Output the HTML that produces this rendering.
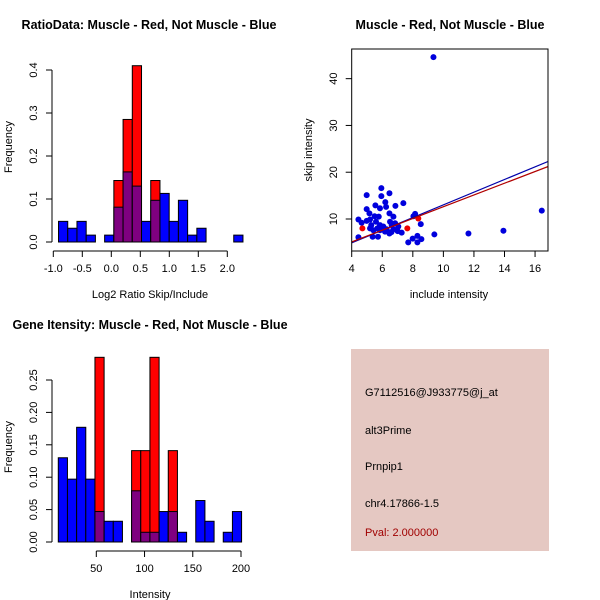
<!DOCTYPE html>
<html><head><meta charset="utf-8"><style>
body{margin:0;background:#fff}
svg{display:block;font-family:"Liberation Sans",sans-serif}
</style></head><body>
<svg id="c" width="600" height="600" xmlns="http://www.w3.org/2000/svg">
<rect width="600" height="600" fill="#fff"/>
<text x="149" y="29" font-size="12.5" font-weight="bold" text-anchor="middle">RatioData: Muscle - Red, Not Muscle - Blue</text>
<text x="450" y="29" font-size="12.5" font-weight="bold" text-anchor="middle">Muscle - Red, Not Muscle - Blue</text>
<text x="150" y="329" font-size="12.5" font-weight="bold" text-anchor="middle">Gene Itensity: Muscle - Red, Not Muscle - Blue</text>
<text x="150" y="298" font-size="11" text-anchor="middle">Log2 Ratio Skip/Include</text>
<text x="150" y="598" font-size="11" text-anchor="middle">Intensity</text>
<text x="449" y="298" font-size="11" text-anchor="middle">include intensity</text>
<text transform="translate(12,147) rotate(-90)" font-size="11" text-anchor="middle">Frequency</text>
<text transform="translate(12,447) rotate(-90)" font-size="11" text-anchor="middle">Frequency</text>
<text transform="translate(312,150) rotate(-90)" font-size="11" text-anchor="middle">skip intensity</text>
<g>
<rect x="351" y="349" width="198" height="202" fill="#e5c8c2"/>
<text x="365" y="396" font-size="11">G7112516@J933775@j_at</text>
<text x="365" y="434" font-size="11">alt3Prime</text>
<text x="365" y="470" font-size="11">Prnpip1</text>
<text x="365" y="507" font-size="11">chr4.17866-1.5</text>
<text x="365" y="536" font-size="11" fill="#a00000">Pval: 2.000000</text>
</g>
</svg>
<script>
// ratio histogram data
const ratioBinStart = -0.91, ratioBinWidth = 0.159;
const ratioBlue = [0.048,0.032,0.048,0.016,0,0.016,0.081,0.163,0.13,0.048,0.097,0.113,0.048,0.097,0.016,0.032,0,0,0,0.016];
const ratioRed  = [0,0,0,0,0,0,0.143,0.285,0.41,0,0.143,0,0,0,0,0,0,0,0,0];
const ratioXTicks = [-1.0,-0.5,0.0,0.5,1.0,1.5,2.0];
const ratioXLabels = ["-1.0","-0.5","0.0","0.5","1.0","1.5","2.0"];
const ratioYTicks = [0,0.1,0.2,0.3,0.4];
const ratioYLabels = ["0.0","0.1","0.2","0.3","0.4"];
// intensity histogram data
const intBinStart = 10.6, intBinWidth = 9.5;
const intBlue = [0.13,0.097,0.177,0.097,0.047,0.032,0.032,0,0.079,0.015,0.015,0.047,0.047,0.015,0,0.064,0.032,0,0.015,0.047];
const intRed  = [0,0,0,0,0.285,0,0,0,0.141,0.141,0.285,0,0.141,0,0,0,0,0,0,0];
const intXTicks = [50,100,150,200];
const intYTicks = [0,0.05,0.1,0.15,0.2,0.25];
const intYLabels = ["0.00","0.05","0.10","0.15","0.20","0.25"];
// scatter data
const blueX = [9.35,16.44,13.93,11.64,9.41,5.94,5.94,6.47,4.98,7.38,6.86,6.2,5.55,5.85,6.25,4.98,5.16,6.47,4.44,4.65,4.98,5.2,5.5,5.77,5.28,5.59,5.85,6.07,5.68,5.42,5.2,5.85,6.18,6.47,6.29,6.62,6.51,6.84,7.05,7.01,7.27,6.73,5.37,5.72,4.44,8.04,8.15,8.52,7.7,7.99,8.3,8.3,8.56,6.73,6.6];
const blueY = [44.6,11.8,7.5,6.9,6.7,16.6,14.9,15.5,15.1,13.4,12.8,13.6,12.9,12.3,12.6,12.1,11.2,11.2,9.9,9.2,9.6,9.9,10.6,10.5,8.7,9.4,8.7,8.4,8.0,7.6,8.0,7.6,7.3,6.9,7.8,8.7,9.4,9.1,8.4,7.4,7.1,7.8,6.2,6.2,6.1,10.6,11.1,8.9,5.0,5.8,6.4,5.0,5.7,10.5,7.2];
const redX = [4.7,7.64,8.36];
const redY = [8.0,8.0,10.1];
const blueFitX = [4,17], blueFitY = [4.9,22.5];
const redFitX = [4,17], redFitY = [5.1,21.4];
const scXTicks = [4,6,8,10,12,14,16];
const scYTicks = [10,20,30,40];

const svg = document.getElementById('c');
const NS = 'http://www.w3.org/2000/svg';
function mk(tag, attrs){const e=document.createElementNS(NS,tag);for(const k in attrs)e.setAttribute(k,attrs[k]);svg.appendChild(e);return e;}

function hist(p, start, width, blue, red, xt, xl, yt, yl, prefix){
  const sx = v => p.x0 + (v - p.vx0) * p.kx;
  const sy = v => p.y0 - v * p.ky;
  for(let i=0;i<blue.length;i++){
    const a = start + i*width, b = a + width;
    const x1 = sx(a), x2 = sx(b);
    const bl = blue[i], rd = red[i];
    if(rd>0){
      const r = mk('rect',{x:x1,y:sy(rd),width:x2-x1,height:sy(0)-sy(rd),fill:'#ff0000',stroke:'#000','stroke-width':1});
      
      
    }
    if(bl>0){
      const over = rd>0;
      const r = mk('rect',{x:x1,y:sy(bl),width:x2-x1,height:sy(0)-sy(bl),fill:over?'#7f0080':'#0000ff',stroke:'#000','stroke-width':1});
      
      
    }
  }
  const ax = mk('line',{x1:sx(xt[0]),x2:sx(xt[xt.length-1]),y1:p.axY,y2:p.axY,stroke:'#000'});
  
  
  xt.forEach((v,i)=>{
    mk('line',{x1:sx(v),x2:sx(v),y1:p.axY,y2:p.axY+6,stroke:'#000'});
    const t = mk('text',{x:sx(v),y:p.axY+21,'font-size':11,'text-anchor':'middle'});
    t.textContent = xl[i];
    
    
  });
  const ay = mk('line',{x1:p.axX,x2:p.axX,y1:sy(yt[0]),y2:sy(yt[yt.length-1]),stroke:'#000'});
  
  
  yt.forEach((v,i)=>{
    mk('line',{x1:p.axX-6,x2:p.axX,y1:sy(v),y2:sy(v),stroke:'#000'});
    const t = mk('text',{transform:`translate(${p.axX-15},${sy(v)}) rotate(-90)`,'font-size':11,'text-anchor':'middle'});
    t.textContent = yl[i];
    
    
  });
}

hist({x0:53.3,vx0:-1,kx:58,y0:242,ky:430,axY:251,axX:52}, ratioBinStart, ratioBinWidth, ratioBlue, ratioRed, ratioXTicks, ratioXLabels, ratioYTicks, ratioYLabels, 'ratio');
hist({x0:96.3,vx0:50,kx:0.9647,y0:542,ky:648,axY:551,axX:52}, intBinStart, intBinWidth, intBlue, intRed, intXTicks, intXTicks.map(String), intYTicks, intYLabels, 'intensity');

// scatter
const SX = v => 351.7 + (v-4)*15.28;
const SY = v => 219 - (v-10)*4.678;
const clip = mk('clipPath',{id:'scclip'});
const cr = document.createElementNS(NS,'rect');
cr.setAttribute('x',352);cr.setAttribute('y',49);cr.setAttribute('width',196);cr.setAttribute('height',202);
clip.appendChild(cr);
blueX.forEach((x,i)=>{
  const c = mk('circle',{cx:SX(x),cy:SY(blueY[i]),r:3,fill:'#0000dd'});
  
  
});
redX.forEach((x,i)=>{
  const c = mk('circle',{cx:SX(x),cy:SY(redY[i]),r:3,fill:'#ee0000'});
  
  
});
const bf = mk('line',{x1:SX(blueFitX[0]),y1:SY(blueFitY[0]),x2:SX(blueFitX[1]),y2:SY(blueFitY[1]),stroke:'#0000aa','stroke-width':1.2,'clip-path':'url(#scclip)'});


const rf = mk('line',{x1:SX(redFitX[0]),y1:SY(redFitY[0]),x2:SX(redFitX[1]),y2:SY(redFitY[1]),stroke:'#b00000','stroke-width':1.2,'clip-path':'url(#scclip)'});


const box = mk('rect',{x:351.7,y:49,width:196.3,height:202,fill:'none',stroke:'#000'});


scXTicks.forEach(v=>{
  mk('line',{x1:SX(v),x2:SX(v),y1:251,y2:257,stroke:'#000'});
  const t = mk('text',{x:SX(v),y:272,'font-size':11,'text-anchor':'middle'});
  t.textContent = v;
  
  
});
scYTicks.forEach(v=>{
  mk('line',{x1:345.7,x2:351.7,y1:SY(v),y2:SY(v),stroke:'#000'});
  const t = mk('text',{transform:`translate(337,${SY(v)}) rotate(-90)`,'font-size':11,'text-anchor':'middle'});
  t.textContent = v;
  
  
});
</script>
</body></html>
